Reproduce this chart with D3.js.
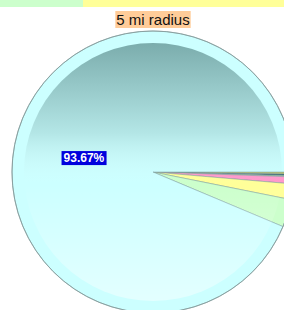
<!DOCTYPE html>
<html>
<head>
<meta charset="utf-8">
<script src="https://cdn.jsdelivr.net/npm/d3@7"></script>
<style>
  body { margin: 0; background: #fff; }
  svg { display: block; font-family: Arial, "Liberation Sans", sans-serif; }
</style>
</head>
<body>
<div id="chart"></div>
<script>
// Chart data
var categories = ["A", "B", "C", "D", "E", "F", "G"];
var values = [0.25, 0.18, 0.13, 0.80, 1.79, 3.18, 93.67];
var colors = ["#cccc66", "#336677", "#99cc99", "#ff99cc", "#ffff99", "#ccffcc", "#ccffff"];
var legendColors = ["#ccffcc", "#ffff99"];
var legendWidths = [83, 201];
var title = "5 mi radius";

var svgWidth = 284;
var svgHeight = 310;

var svg = d3.select("#chart")
  .append("svg")
  .attr("width", svgWidth)
  .attr("height", svgHeight);

// Cut-off legend strip at the top
var legendX = d3.cumsum([0].concat(legendWidths));
svg.selectAll(".legend")
  .data(legendColors)
  .enter()
  .append("rect")
  .attr("x", (d, i) => legendX[i])
  .attr("y", 0)
  .attr("width", (d, i) => legendWidths[i])
  .attr("height", 7)
  .attr("fill", d => d);

// Title with peach background
var titleText = svg.append("text")
  .attr("x", 153)
  .attr("y", 25)
  .attr("text-anchor", "middle")
  .attr("font-size", 15)
  .attr("fill", "#111")
  .text(title);
var bb = titleText.node().getBBox();
svg.insert("rect", "text")
  .attr("x", bb.x - 1)
  .attr("y", 11)
  .attr("width", bb.width + 2)
  .attr("height", 17)
  .attr("fill", "#ffcc99");

var cx = 153, cy = 172, radius = 141;

var defs = svg.append("defs");
var grad = defs.append("linearGradient")
  .attr("id", "shade")
  .attr("x1", 0).attr("y1", 0).attr("x2", 0).attr("y2", 1);
grad.append("stop").attr("offset", "0%").attr("stop-color", "#2a5a5a").attr("stop-opacity", 0.5);
grad.append("stop").attr("offset", "35%").attr("stop-color", "#2a5a5a").attr("stop-opacity", 0.15);
grad.append("stop").attr("offset", "55%").attr("stop-color", "#ffffff").attr("stop-opacity", 0);
grad.append("stop").attr("offset", "100%").attr("stop-color", "#ffffff").attr("stop-opacity", 0.45);

var pieGroup = svg.append("g")
  .attr("transform", `translate(${cx}, ${cy})`);

var pie = d3.pie()
  .sort(null)
  .value(d => d)
  .startAngle(Math.PI / 2)
  .endAngle(Math.PI / 2 + 2 * Math.PI);

var arc = d3.arc().innerRadius(0).outerRadius(radius);
var arcs = pie(values);

pieGroup.selectAll(".slice")
  .data(arcs)
  .enter()
  .append("path")
  .attr("d", arc)
  .attr("fill", (d, i) => colors[i])
  .attr("stroke", "#7a9a9a")
  .attr("stroke-width", 0.5);

// Inner shaded disc for the bevel look
pieGroup.append("circle")
  .attr("r", radius - 12)
  .attr("fill", "url(#shade)");

pieGroup.append("circle")
  .attr("r", radius)
  .attr("fill", "none")
  .attr("stroke", "#8aa0a0")
  .attr("stroke-width", 1);

// Label for the big slice
var big = arcs[arcs.length - 1];
var labelArc = d3.arc().innerRadius(radius * 0.5).outerRadius(radius * 0.5);
var pos = labelArc.centroid(big);
var label = pieGroup.append("text")
  .attr("x", pos[0])
  .attr("y", pos[1] + 4)
  .attr("text-anchor", "middle")
  .attr("font-size", 12)
  .attr("font-weight", "bold")
  .attr("fill", "#fff")
  .text(values[values.length - 1].toFixed(2) + "%");
var lb = label.node().getBBox();
pieGroup.insert("rect", "text")
  .attr("x", lb.x - 2)
  .attr("y", lb.y)
  .attr("width", lb.width + 4)
  .attr("height", lb.height)
  .attr("fill", "#0000dd");
</script>
</body>
</html>
